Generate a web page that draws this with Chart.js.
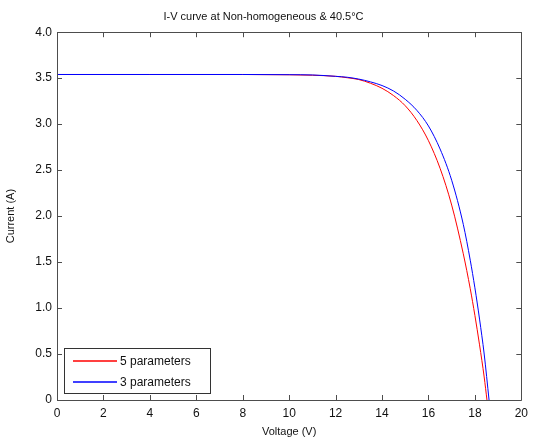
<!DOCTYPE html>
<html>
<head>
<meta charset="utf-8">
<script src="https://cdn.jsdelivr.net/npm/chart.js@4.4.1/dist/chart.umd.min.js"></script>
<style>
  html, body { margin: 0; padding: 0; background: #fff; }
  #wrap { width: 534px; height: 443px; }
</style>
</head>
<body>
<div id="wrap"><canvas id="ivChart" width="534" height="443"></canvas></div>
<script>
// values
const voltage5 = [0, 4, 8, 10, 11, 12, 12.5, 13, 13.5, 14, 14.5, 15, 15.5, 16, 16.5, 17, 17.5, 17.8, 18, 18.2, 18.4, 18.52];
const current5 = [3.54, 3.54, 3.54, 3.537, 3.532, 3.52, 3.505, 3.485, 3.445, 3.39, 3.31, 3.20, 3.04, 2.82, 2.52, 2.12, 1.59, 1.21, 0.92, 0.60, 0.25, 0];

const voltage3 = [0, 4, 8, 10, 11, 12, 12.5, 13, 13.5, 14, 14.5, 15, 15.5, 16, 16.5, 17, 17.5, 17.8, 18, 18.2, 18.4, 18.61];
const current3 = [3.54, 3.54, 3.54, 3.538, 3.535, 3.52, 3.51, 3.49, 3.46, 3.42, 3.36, 3.27, 3.15, 2.98, 2.73, 2.39, 1.91, 1.52, 1.22, 0.88, 0.50, 0];

const seriesLabels = ['5 parameters', '3 parameters'];
const seriesColors = ['#ff0000', '#0000ff'];

const xTicks = [0, 2, 4, 6, 8, 10, 12, 14, 16, 18, 20];
const yTicks = [0, 0.5, 1, 1.5, 2, 2.5, 3, 3.5, 4];

const toPoints = (xs, ys) => xs.map((x, i) => ({ x: x, y: ys[i] }));

const font = "'Liberation Sans', Arial, sans-serif";
const axisColor = '#4d4d4d';

// MATLAB style box with inward ticks, plus the boxed legend in the lower left
const matlabAxes = {
    id: 'matlabAxes',
    afterDatasetsDraw(chart) {
        const ctx = chart.ctx;
        const a = chart.chartArea;
        const xs = chart.scales.x, ys = chart.scales.y;
        ctx.save();
        ctx.strokeStyle = axisColor;
        ctx.lineWidth = 1;
        ctx.beginPath();
        ctx.rect(Math.round(a.left) + 0.5, Math.round(a.top) + 0.5,
                 Math.round(a.right - a.left), Math.round(a.bottom - a.top));
        xTicks.forEach(v => {
            const px = Math.round(xs.getPixelForValue(v)) + 0.5;
            ctx.moveTo(px, a.bottom); ctx.lineTo(px, a.bottom - 5);
            ctx.moveTo(px, a.top); ctx.lineTo(px, a.top + 5);
        });
        yTicks.forEach(v => {
            const py = Math.round(ys.getPixelForValue(v)) + 0.5;
            ctx.moveTo(a.left, py); ctx.lineTo(a.left + 5, py);
            ctx.moveTo(a.right, py); ctx.lineTo(a.right - 5, py);
        });
        ctx.stroke();

        // legend
        const lx = Math.round(a.left) + 7, ly = Math.round(a.bottom) - 52, lw = 146, lh = 45;
        ctx.fillStyle = '#fff';
        ctx.fillRect(lx, ly, lw, lh);
        ctx.strokeStyle = '#333';
        ctx.strokeRect(lx + 0.5, ly + 0.5, lw, lh);
        ctx.font = '12px ' + font;
        ctx.textBaseline = 'middle';
        seriesLabels.forEach((label, i) => {
            const y = ly + 13 + i * 21;
            ctx.strokeStyle = seriesColors[i];
            ctx.lineWidth = 1.3;
            ctx.beginPath();
            ctx.moveTo(lx + 9, y); ctx.lineTo(lx + 53, y);
            ctx.stroke();
            ctx.fillStyle = '#111';
            ctx.fillText(label, lx + 56, y + 1);
        });
        ctx.restore();
    }
};

new Chart(
    document.getElementById('ivChart'),
    {
        type: 'line',
        data: {
            datasets: [
                {
                    label: seriesLabels[1],
                    data: toPoints(voltage3, current3),
                    borderColor: seriesColors[1],
                    borderWidth: 1,
                    pointRadius: 0,
                    cubicInterpolationMode: 'monotone',
                    order: 1
                },
                {
                    label: seriesLabels[0],
                    data: toPoints(voltage5, current5),
                    borderColor: seriesColors[0],
                    borderWidth: 1,
                    pointRadius: 0,
                    cubicInterpolationMode: 'monotone',
                    order: 2
                }
            ]
        },
        options: {
            responsive: false,
            animation: false,
            layout: { padding: { right: 7, left: 0, bottom: 0 } },
            plugins: {
                legend: { display: false },
                tooltip: { enabled: false },
                title: {
                    display: true,
                    text: 'I-V curve at Non-homogeneous & 40.5\u00b0C',
                    color: '#111',
                    font: { family: font, size: 11, weight: 'normal' },
                    padding: { top: 10, bottom: 9 }
                }
            },
            scales: {
                x: {
                    type: 'linear',
                    min: 0, max: 20,
                    afterBuildTicks: s => { s.ticks = xTicks.map(v => ({ value: v })); },
                    afterFit: s => { s.height = 43; },
                    grid: { display: false, drawTicks: false },
                    border: { display: false },
                    ticks: { color: '#111', padding: 6, font: { family: font, size: 12 } },
                    title: { display: true, text: 'Voltage (V)', color: '#111', padding: { top: 1 }, font: { family: font, size: 11 } }
                },
                y: {
                    type: 'linear',
                    min: 0, max: 4,
                    afterBuildTicks: s => { s.ticks = yTicks.map(v => ({ value: v })); },
                    afterFit: s => { s.width = 57; },
                    grid: { display: false, drawTicks: false },
                    border: { display: false },
                    ticks: { color: '#111', padding: 5, font: { family: font, size: 12 } },
                    title: { display: true, text: 'Current (A)', color: '#111', padding: { bottom: 2 }, font: { family: font, size: 11 } }
                }
            }
        },
        plugins: [matlabAxes]
    }
);
</script>
</body>
</html>
